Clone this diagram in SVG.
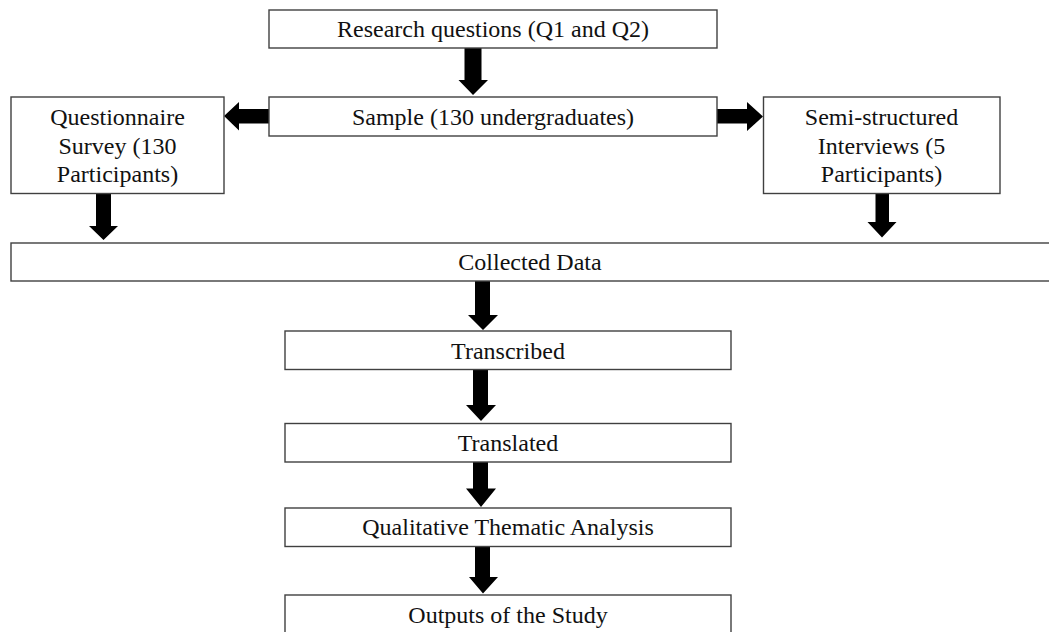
<svg xmlns="http://www.w3.org/2000/svg" width="1049" height="632" viewBox="0 0 1049 632">
<style>
.box{fill:#fff;stroke:#404040;stroke-width:1.4}
.t{font-family:"Liberation Serif","Times New Roman",serif;font-size:24px;fill:#111;text-anchor:middle}
.arr{fill:#000}
</style>
<rect width="1049" height="632" fill="#fff"/>
<g id="connectors">
<polygon class="arr" points="464.5,48 481.5,48 481.5,80 488,80 473,95 458.5,80 464.5,80"/>
<polygon class="arr" points="269,109 239,109 239,102 224,116 239,130.5 239,123.5 269,123.5"/>
<polygon class="arr" points="717,109 747,109 747,102 763,116.5 747,131 747,123.5 717,123.5"/>
<polygon class="arr" points="96,193 111,193 111,226 118,226 103.5,240 89,226 96,226"/>
<polygon class="arr" points="875.5,193 889,193 889,222 896.5,222 882,237.5 867.5,222 875.5,222"/>
<polygon class="arr" points="475,281 490,281 490,315 498,315 483,330 468,315 475,315"/>
<polygon class="arr" points="473,369 488,369 488,405 496,405 481,421 466,405 473,405"/>
<polygon class="arr" points="473,462 488,462 488,488.5 496,488.5 481,507 466,488.5 473,488.5"/>
<polygon class="arr" points="475,547 490,547 490,577 498,577 483,593.5 469,577 475,577"/>
</g>
<g id="n-research"><rect class="box" x="269" y="10" width="448" height="38"/><text class="t" x="493" y="37">Research questions (Q1 and Q2)</text></g>
<g id="n-sample"><rect class="box" x="269" y="97" width="448" height="39"/><text class="t" x="493" y="125">Sample (130 undergraduates)</text></g>
<g id="n-questionnaire"><rect class="box" x="11" y="97" width="213" height="96.5"/><text class="t" x="117.5" y="125">Questionnaire</text><text class="t" x="117.5" y="153.5">Survey (130</text><text class="t" x="117.5" y="182">Participants)</text></g>
<g id="n-interviews"><rect class="box" x="763.5" y="97" width="236.5" height="96.5"/><text class="t" x="881.5" y="125">Semi-structured</text><text class="t" x="881.5" y="153.5">Interviews (5</text><text class="t" x="881.5" y="182">Participants)</text></g>
<g id="n-collected"><rect class="box" x="11" y="243" width="1050" height="38"/><text class="t" x="530" y="270">Collected Data</text></g>
<g id="n-transcribed"><rect class="box" x="285" y="331" width="446" height="38.5"/><text class="t" x="508" y="358.5">Transcribed</text></g>
<g id="n-translated"><rect class="box" x="285" y="423.5" width="446" height="38.5"/><text class="t" x="508" y="451">Translated</text></g>
<g id="n-analysis"><rect class="box" x="285" y="508" width="446" height="38.5"/><text class="t" x="508" y="535">Qualitative Thematic Analysis</text></g>
<g id="n-outputs"><rect class="box" x="285" y="595" width="446" height="50"/><text class="t" x="508" y="623">Outputs of the Study</text></g>
</svg>
